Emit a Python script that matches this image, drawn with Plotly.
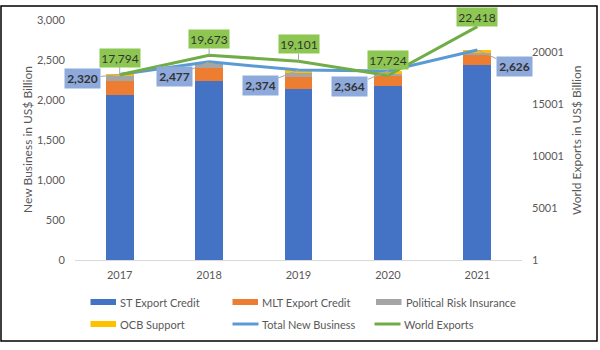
import plotly.graph_objects as go

years = ["2017", "2018", "2019", "2020", "2021"]
st_export = [2060, 2240, 2140, 2180, 2437]
mlt_export = [175, 160, 145, 115, 134]
political_risk = [65, 50, 50, 35, 20]
ocb_support = [20, 27, 39, 34, 35]
total_new_business = [2320, 2477, 2374, 2364, 2626]
world_exports = [17794, 19673, 19101, 17724, 22418]

left_ticks = [0, 500, 1000, 1500, 2000, 2500, 3000]
right_ticks = [1, 5001, 10001, 15001, 20001]

FONT = "Lato"
GREY = "#595959"

fig = go.Figure()
bar_specs = [
    ("ST Export Credit", st_export, "#4472C4"),
    ("MLT Export Credit", mlt_export, "#ED7D31"),
    ("Political Risk Insurance", political_risk, "#A5A5A5"),
    ("OCB Support", ocb_support, "#FFC000"),
]
for name, vals, col in bar_specs:
    fig.add_trace(go.Bar(x=years, y=vals, name=name, marker_color=col,
                         width=0.31, marker_line_width=0))
fig.add_trace(go.Scatter(x=years, y=total_new_business, name="Total New Business",
                         mode="lines", line=dict(color="#5B9BD5", width=3)))
fig.add_trace(go.Scatter(x=years, y=world_exports, name="World Exports", yaxis="y2",
                         mode="lines", line=dict(color="#70AD47", width=3)))

ML, MR, MT, MB = 75, 78, 20, 90
W, H = 600, 350
PW, PH = W - ML - MR, H - MT - MB


def px_x(p):
    return (p - ML) / PW


def px_y(p):
    return (H - MB - p) / PH


annotations = []
# Total new business labels (blue boxes)
tnb_offsets = [(-37, 4), (-35, 15), (-38, 15), (-38, 16), (37, 17)]
for i, (v, (ax, ay)) in enumerate(zip(total_new_business, tnb_offsets)):
    annotations.append(dict(x=i, y=v, xref="x", yref="y", text=f"<b>{v:,}</b>",
                            showarrow=True, arrowhead=0, arrowwidth=1, arrowcolor="#A6A6A6",
                            ax=ax, ay=ay, bgcolor="#8EA9DB", width=33, height=17, borderpad=1,
                            font=dict(family=FONT, size=12, color="#333333")))
# World export labels (green boxes)
we_offsets = [(0, -17), (0, -16), (0, -17), (0, -16), (0, -10)]
for i, (v, (ax, ay)) in enumerate(zip(world_exports, we_offsets)):
    annotations.append(dict(x=i, y=v, xref="x", yref="y2", text=f"{v:,}",
                            showarrow=True, arrowhead=0, arrowwidth=1, arrowcolor="#A6A6A6",
                            ax=ax, ay=ay, bgcolor="#8DC751", width=38, height=16, borderpad=1,
                            font=dict(family=FONT, size=12, color="#333333")))

# axis titles
annotations.append(dict(x=px_x(27), y=px_y(140), xref="paper", yref="paper",
                        xanchor="center", yanchor="middle",
                        text="New Business in US$ Billion", textangle=-90, showarrow=False,
                        font=dict(family=FONT, size=12, color=GREY)))
annotations.append(dict(x=px_x(576), y=px_y(140), xref="paper", yref="paper",
                        xanchor="center", yanchor="middle",
                        text="World Exports in US$ Billion", textangle=-90, showarrow=False,
                        font=dict(family=FONT, size=12, color=GREY)))

shapes = []
# custom legend
legend_items = [
    ("ST Export Credit", "#4472C4", "rect", 90.5, 302),
    ("MLT Export Credit", "#ED7D31", "rect", 232.5, 302),
    ("Political Risk Insurance", "#A5A5A5", "rect", 376, 302),
    ("OCB Support", "#FFC000", "rect", 90.5, 324),
    ("Total New Business", "#5B9BD5", "line", 232.5, 324),
    ("World Exports", "#70AD47", "line", 374.5, 324),
]
for name, col, kind, lx, ly in legend_items:
    if kind == "rect":
        shapes.append(dict(type="rect", xref="paper", yref="paper",
                           x0=px_x(lx), x1=px_x(lx + 25.5), y0=px_y(ly - 3), y1=px_y(ly + 3),
                           fillcolor=col, line=dict(width=0)))
    else:
        shapes.append(dict(type="line", xref="paper", yref="paper",
                           x0=px_x(lx), x1=px_x(lx + 26), y0=px_y(ly), y1=px_y(ly),
                           line=dict(color=col, width=3)))
    annotations.append(dict(x=px_x(lx + 27.5), y=px_y(ly), xref="paper", yref="paper",
                            text=name, showarrow=False, xanchor="left", yanchor="middle",
                            font=dict(family=FONT, size=11, color=GREY)))
# outer frame
shapes.append(dict(type="rect", xref="paper", yref="paper",
                   x0=px_x(1), x1=px_x(597), y0=px_y(341), y1=px_y(6),
                   line=dict(color="black", width=1.5), fillcolor="rgba(0,0,0,0)"))

fig.update_layout(
    width=W, height=H,
    margin=dict(l=ML, r=MR, t=MT, b=MB),
    barmode="stack",
    showlegend=False,
    plot_bgcolor="white", paper_bgcolor="white",
    font=dict(family=FONT, size=11, color=GREY),
    xaxis=dict(type="category", range=[-0.5, 4.5], showline=True, linecolor="#D9D9D9",
               linewidth=1, showgrid=False, ticks="", ticklabelstandoff=5,
               tickfont=dict(family=FONT, size=11, color=GREY)),
    yaxis=dict(range=[0, 3000], tickvals=left_ticks, tickformat=",", showgrid=False,
               zeroline=False, ticks="", ticklabelstandoff=9,
               tickfont=dict(family=FONT, size=11, color=GREY)),
    yaxis2=dict(range=[1, 23060], tickvals=right_ticks, overlaying="y", side="right",
                showgrid=False, zeroline=False, ticks="", ticklabelstandoff=9,
                tickformat="d", tickfont=dict(family=FONT, size=11, color=GREY)),
    annotations=annotations,
    shapes=shapes,
)

fig.write_html("out.html")
